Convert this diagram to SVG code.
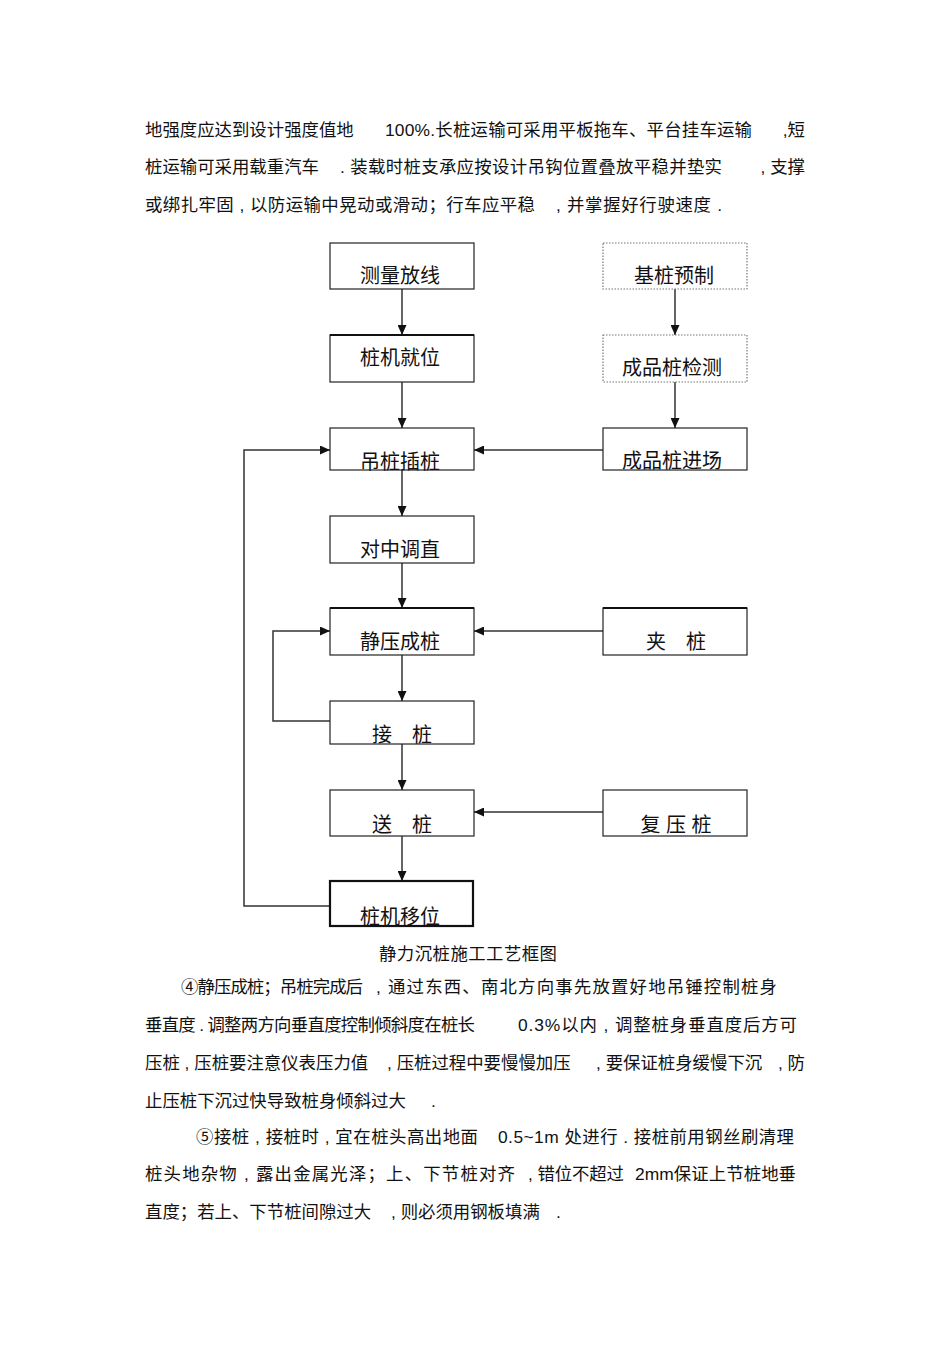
<svg xmlns="http://www.w3.org/2000/svg" width="950" height="1345" viewBox="0 0 950 1345">
<style>
.body{font-family:"Liberation Sans","Noto Sans CJK SC",sans-serif;font-size:17.4px;fill:#111}
.lbl{font-family:"Liberation Sans","Noto Sans CJK SC",sans-serif;font-size:20px;fill:#111;text-anchor:middle}
.box{fill:#fff;stroke:#222;stroke-width:1.2}
.dot{fill:#fff;stroke:#777;stroke-width:1.2;stroke-dasharray:1.5 1.5}
.thick{fill:none;stroke:#111;stroke-width:2.2}
.ln{fill:none;stroke:#333;stroke-width:1.5}
</style>
<defs>
<marker id="ah" markerUnits="userSpaceOnUse" markerWidth="10" markerHeight="9" refX="10" refY="4.5" orient="auto">
<path d="M0,0 L10,4.5 L0,9 z" fill="#111"/>
</marker>
</defs>
<rect width="950" height="1345" fill="#fff"/>

<g id="para1">
<text class="body" x="145" y="136">地强度应达到设计强度值地</text>
<text class="body" x="385" y="136" textLength="367" lengthAdjust="spacing">100%.长桩运输可采用平板拖车、平台挂车运输</text>
<text class="body" x="805" y="136" text-anchor="end">,短</text>
<text class="body" x="145" y="173">桩运输可采用载重汽车</text>
<text class="body" x="340" y="173" textLength="382" lengthAdjust="spacing">. 装载时桩支承应按设计吊钩位置叠放平稳并垫实</text>
<text class="body" x="805" y="173" text-anchor="end">, 支撑</text>
<text class="body" x="145" y="211" textLength="390" lengthAdjust="spacing">或绑扎牢固 , 以防运输中晃动或滑动；行车应平稳</text>
<text class="body" x="556" y="211" textLength="166" lengthAdjust="spacing">, 并掌握好行驶速度 .</text>
</g>

<g id="connectors">
<line class="ln" x1="402" y1="289" x2="402" y2="335" marker-end="url(#ah)"/>
<line class="ln" x1="402" y1="382" x2="402" y2="428" marker-end="url(#ah)"/>
<line class="ln" x1="402" y1="470" x2="402" y2="516" marker-end="url(#ah)"/>
<line class="ln" x1="402" y1="563" x2="402" y2="608" marker-end="url(#ah)"/>
<line class="ln" x1="402" y1="655" x2="402" y2="701" marker-end="url(#ah)"/>
<line class="ln" x1="402" y1="744" x2="402" y2="790" marker-end="url(#ah)"/>
<line class="ln" x1="402" y1="836" x2="402" y2="881" marker-end="url(#ah)"/>
<line class="ln" x1="675" y1="289" x2="675" y2="335" marker-end="url(#ah)"/>
<line class="ln" x1="675" y1="382" x2="675" y2="428" marker-end="url(#ah)"/>
<line class="ln" x1="603" y1="450" x2="474" y2="450" marker-end="url(#ah)"/>
<line class="ln" x1="603" y1="631" x2="474" y2="631" marker-end="url(#ah)"/>
<line class="ln" x1="603" y1="812" x2="474" y2="812" marker-end="url(#ah)"/>
<polyline class="ln" points="330,906 244,906 244,450 330,450" marker-end="url(#ah)"/>
<polyline class="ln" points="330,721 273,721 273,631 330,631" marker-end="url(#ah)"/>
</g>

<g id="n1"><rect class="box" x="330" y="243" width="144" height="46"/><text class="lbl" x="400" y="283">测量放线</text></g>
<g id="n2"><rect class="box" x="330" y="335" width="144" height="47"/><line class="thick" x1="330" y1="335" x2="474" y2="335"/><text class="lbl" x="400" y="365">桩机就位</text></g>
<g id="n3"><rect class="box" x="330" y="428" width="144" height="42"/><text class="lbl" x="400" y="469">吊桩插桩</text></g>
<g id="n4"><rect class="box" x="330" y="516" width="144" height="47"/><text class="lbl" x="400" y="557">对中调直</text></g>
<g id="n5"><rect class="box" x="330" y="608" width="144" height="47"/><line class="thick" x1="330" y1="608" x2="474" y2="608"/><text class="lbl" x="400" y="649">静压成桩</text></g>
<g id="n6"><rect class="box" x="330" y="701" width="144" height="43"/><text class="lbl" x="402" y="742">接　桩</text></g>
<g id="n7"><rect class="box" x="330" y="790" width="144" height="46"/><text class="lbl" x="402" y="832">送　桩</text></g>
<g id="n8"><rect class="box" x="330" y="881" width="143" height="45" style="stroke-width:2.2;stroke:#111"/><text class="lbl" x="400" y="924">桩机移位</text></g>
<g id="n9"><rect class="dot" x="603" y="243" width="144" height="46"/><text class="lbl" x="674" y="283">基桩预制</text></g>
<g id="n10"><rect class="dot" x="603" y="335" width="144" height="47"/><text class="lbl" x="672" y="375">成品桩检测</text></g>
<g id="n11"><rect class="box" x="603" y="428" width="144" height="42"/><text class="lbl" x="672" y="468">成品桩进场</text></g>
<g id="n12"><rect class="box" x="603" y="608" width="144" height="47"/><line class="thick" x1="603" y1="608" x2="747" y2="608"/><text class="lbl" x="676" y="649">夹　桩</text></g>
<g id="n13"><rect class="box" x="603" y="790" width="144" height="46"/><text class="lbl" x="676" y="832">复 压 桩</text></g>

<g id="caption">
<text class="body" x="379" y="960" textLength="178" lengthAdjust="spacing">静力沉桩施工工艺框图</text>
</g>

<g id="para4">
<text class="body" x="181" y="993" textLength="182" lengthAdjust="spacing">④静压成桩；吊桩完成后</text>
<text class="body" x="376" y="993" textLength="401" lengthAdjust="spacing">, 通过东西、南北方向事先放置好地吊锤控制桩身</text>
<text class="body" x="145" y="1031" textLength="330" lengthAdjust="spacing">垂直度 . 调整两方向垂直度控制倾斜度在桩长</text>
<text class="body" x="518" y="1031" textLength="279" lengthAdjust="spacing">0.3%以内 , 调整桩身垂直度后方可</text>
<text class="body" x="145" y="1069">压桩 , 压桩要注意仪表压力值</text>
<text class="body" x="387" y="1069">, 压桩过程中要慢慢加压</text>
<text class="body" x="596" y="1069">, 要保证桩身缓慢下沉</text>
<text class="body" x="805" y="1069" text-anchor="end">, 防</text>
<text class="body" x="145" y="1107">止压桩下沉过快导致桩身倾斜过大</text>
<text class="body" x="431" y="1107">.</text>
</g>

<g id="para5">
<text class="body" x="196" y="1143" textLength="282" lengthAdjust="spacing">⑤接桩 , 接桩时 , 宜在桩头高出地面</text>
<text class="body" x="498" y="1143" textLength="296" lengthAdjust="spacing">0.5~1m 处进行 . 接桩前用钢丝刷清理</text>
<text class="body" x="145" y="1180" textLength="370" lengthAdjust="spacing">桩头地杂物 , 露出金属光泽；上、下节桩对齐</text>
<text class="body" x="528" y="1180" textLength="96" lengthAdjust="spacing">, 错位不超过</text>
<text class="body" x="635" y="1180" textLength="161" lengthAdjust="spacing">2mm保证上节桩地垂</text>
<text class="body" x="145" y="1218">直度；若上、下节桩间隙过大</text>
<text class="body" x="391" y="1218">, 则必须用钢板填满</text>
<text class="body" x="556" y="1218">.</text>
</g>
</svg>
